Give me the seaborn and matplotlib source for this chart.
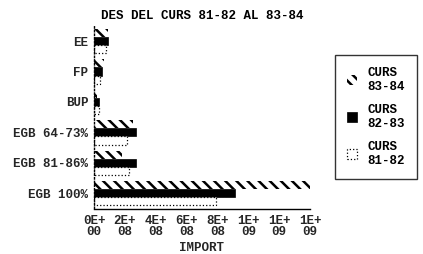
import matplotlib
matplotlib.use('Agg')
import matplotlib.pyplot as plt
import pandas as pd
import seaborn as sns

categories = ['EE', 'FP', 'BUP', 'EGB 64-73%', 'EGB 81-86%', 'EGB 100%']
cursos = ['CURS 83-84', 'CURS 82-83', 'CURS 81-82']
legend_labels = ['CURS\n83-84', 'CURS\n82-83', 'CURS\n81-82']
curs_83_84 = [9.0e7, 6.5e7, 1.7e7, 2.55e8, 1.8e8, 1.4e9]
curs_82_83 = [9.2e7, 5.0e7, 3.0e7, 2.75e8, 2.75e8, 9.15e8]
curs_81_82 = [7.5e7, 3.8e7, 3.2e7, 2.15e8, 2.3e8, 7.9e8]
x_ticks = [0, 2e8, 4e8, 6e8, 8e8, 1e9, 1.2e9, 1.4e9]
x_tick_labels = ['0E+\n00', '2E+\n08', '4E+\n08', '6E+\n08', '8E+\n08',
                 '1E+\n09', '1E+\n09', '1E+\n09']

df = pd.DataFrame({
    'categoria': categories * 3,
    'curs': [cursos[0]] * 6 + [cursos[1]] * 6 + [cursos[2]] * 6,
    'import': curs_83_84 + curs_82_83 + curs_81_82,
})

sns.set_theme(style='white')
plt.rcParams['font.family'] = ['Liberation Mono', 'DejaVu Sans Mono']
plt.rcParams['font.weight'] = 'bold'
plt.rcParams['axes.titleweight'] = 'bold'
plt.rcParams['axes.labelweight'] = 'bold'
plt.rcParams['hatch.linewidth'] = 1.8
plt.rcParams['text.color'] = 'black'

fig = plt.figure(figsize=(4.23, 2.54), dpi=100)
ax = fig.add_axes([94 / 423, 1 - 208.5 / 254, 216 / 423, (208.5 - 25.8) / 254])

sns.barplot(data=df, x='import', y='categoria', hue='curs', order=categories,
            hue_order=cursos, orient='h', width=0.8, legend=False, ax=ax,
            palette=['white', 'black', 'white'], saturation=1)

# estil de cada serie
styles = [
    dict(facecolor='white', edgecolor='black', hatch='\\\\\\', linewidth=0),
    dict(facecolor='black', edgecolor='black', hatch=None, linewidth=0.5),
    dict(facecolor='white', edgecolor='black', hatch=None, linewidth=0.9, linestyle=':'),
]
for cont, st in zip(ax.containers, styles):
    for bar in cont:
        bar.set(**st)

ax.set_xlim(0, 1.4e9)
ax.set_ylim(5.5, -0.5)
ax.set_xticks(x_ticks)
ax.set_xticklabels(x_tick_labels, fontsize=9, linespacing=0.95)
ax.tick_params(axis='x', direction='inout', length=5, width=1, color='black', pad=2)
ax.tick_params(axis='y', length=0, pad=4, labelsize=9)
ax.set_xlabel('IMPORT', fontsize=9, labelpad=3)
ax.set_ylabel('')
ax.set_title('DES DEL CURS 81-82 AL 83-84', fontsize=9, pad=5)

sns.despine(ax=ax)
ax.spines['left'].set_linestyle(':')
ax.spines['left'].set_color('black')
ax.spines['left'].set_linewidth(1)
ax.spines['bottom'].set_color('black')
ax.spines['bottom'].set_linewidth(1)

leg = fig.legend(handles=ax.containers, labels=legend_labels,
                 loc='center', bbox_to_anchor=(376 / 423, 1 - 117 / 254),
                 fontsize=9, frameon=True, fancybox=False, edgecolor='black',
                 handlelength=0.8, handleheight=0.9, handletextpad=0.8,
                 labelspacing=0.9, borderpad=1.0, borderaxespad=0)
leg.get_frame().set_linewidth(1)

fig.savefig('out.png', dpi=100)
